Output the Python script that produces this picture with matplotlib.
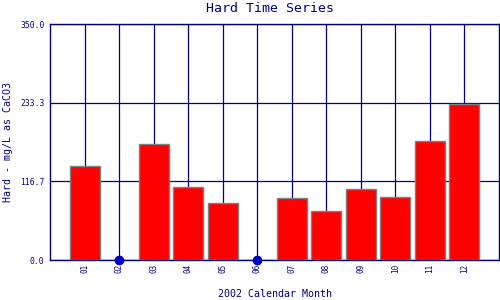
import numpy as np
import matplotlib
matplotlib.use('Agg')
import matplotlib.pyplot as plt

months = ['01', '02', '03', '04', '05', '06', '07', '08', '09', '10', '11', '12']
hardness = [140, 0, 172, 108, 84, 0, 91.5, 72, 105, 93, 177, 231]
y_ticks = [0.0, 116.7, 233.3, 350.0]

NAVY = '#000080'
plt.rcParams['font.family'] = ['DejaVu Sans Mono']

fig = plt.figure(figsize=(5, 3), dpi=100)
ax = fig.add_axes([0.1, 0.1333, 0.898, 0.7867])

x = np.arange(1, len(months) + 1)
vals = np.array(hardness)

ax.bar(x, vals, width=0.87, color='#ff0000', edgecolor='#808080', linewidth=1.0, zorder=3)
# zero readings get a dot instead of a bar
zero = vals == 0
ax.plot(x[zero], vals[zero], 'o', color='#0000cc', markersize=6, zorder=4, clip_on=False)

ax.set_xlim(0, 13)
ax.set_ylim(0, 350)
ax.set_xticks(x)
ax.set_xticklabels(months, rotation=90, fontsize=5.5, color=NAVY)
ax.set_yticks(y_ticks)
ax.set_yticklabels(['%.1f' % v for v in y_ticks], fontsize=5.8, color=NAVY)
ax.tick_params(axis='both', length=0)
ax.tick_params(axis='y', pad=4)
ax.tick_params(axis='x', pad=3)

ax.grid(True, color=NAVY, linewidth=0.9, zorder=0)
ax.set_axisbelow(True)
for s in ax.spines.values():
    s.set_color(NAVY)
    s.set_linewidth(1.0)

fig.text(0.54, 0.972, 'Hard Time Series', fontsize=9.5, color=NAVY, ha='center', va='center')
ax.set_xlabel('2002 Calendar Month', fontsize=7.2, color=NAVY, labelpad=11)
ax.set_ylabel('Hard - mg/L as CaCO3', fontsize=7.2, color=NAVY, labelpad=5)

fig.savefig('out.png', dpi=100)
